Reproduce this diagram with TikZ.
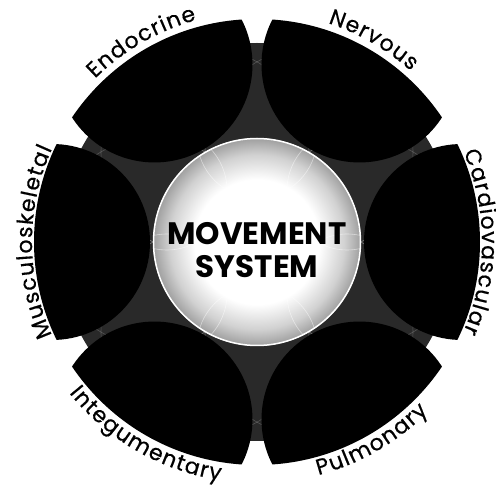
\documentclass[tikz,border=0pt]{standalone}
\usepackage{fontspec}
\setmainfont{Poppins}
\newfontfamily\lblfam[FakeBold=0.5]{Poppins}
\usetikzlibrary{decorations.text}
\pgfdeclareradialshading{coreshade}{\pgfpoint{0bp}{0bp}}{color(0bp)=(white); color(15bp)=(white); color(21bp)=(black!18); color(25bp)=(black!38); color(50bp)=(black!38)}
\newcommand\lblfont{\lblfam\fontsize{22}{24}\selectfont}
\begin{document}
\begin{tikzpicture}[x=1pt,y=1pt,
  backdisc/.style={fill=black!84},
  faintline/.style={draw=white, opacity=0.2, line width=0.6pt},
  tile/.style={fill=black},
  lbl/.style={decorate, decoration={text effects along path, text={#1}, text align=center,
     text effects/.cd, text along path,
     characters={font=\lblfont, inner sep=0pt, text=black},
     character widths={font=\lblfont, inner xsep=0.6pt}}}]
\useasboundingbox (-257,-247) rectangle (239,242);
% dark textured background disc
\fill[backdisc] (0,0) circle (199);
\begin{scope}
  \clip (0,0) circle (199);
  \foreach \a in {0,60,...,300} {
    \draw[faintline] (\a:104) circle (104);
    \draw[faintline] (\a+30:180) circle (104);
  }
\end{scope}
% six black tiles
\begin{scope}
  \clip (0,0) circle (223);
  \foreach \a in {0,60,...,300} \fill[tile] (\a:205) circle (98);
\end{scope}
% central circle
\shade[shading=coreshade] (0,0) circle (104);
\begin{scope}
  \clip (0,0) circle (104);
  \foreach \a in {0,60,...,300} \draw[white, opacity=0.5, line width=0.6pt] (\a+30:104) circle (60);
\end{scope}
\draw[white, line width=1.5pt] (0,0) circle (103.5);
\node[align=center, font=\fontsize{31}{33}\selectfont\bfseries, inner sep=0pt] (core) at (0,-8) {MOVEMENT\\SYSTEM};
% curved labels
\path[lbl=Endocrine] (165:230) arc[start angle=165, end angle=75, radius=230];
\path[lbl=Nervous] (105:230) arc[start angle=105, end angle=15, radius=230];
\path[lbl=Cardiovascular] (45:225) arc[start angle=45, end angle=-45, radius=225];
\path[lbl=Musculoskeletal] (225:225) arc[start angle=225, end angle=135, radius=225];
\path[lbl=Integumentary] (195:241) arc[start angle=195, end angle=285, radius=241];
\path[lbl=Pulmonary] (255:241) arc[start angle=255, end angle=345, radius=241];
\end{tikzpicture}
\end{document}
